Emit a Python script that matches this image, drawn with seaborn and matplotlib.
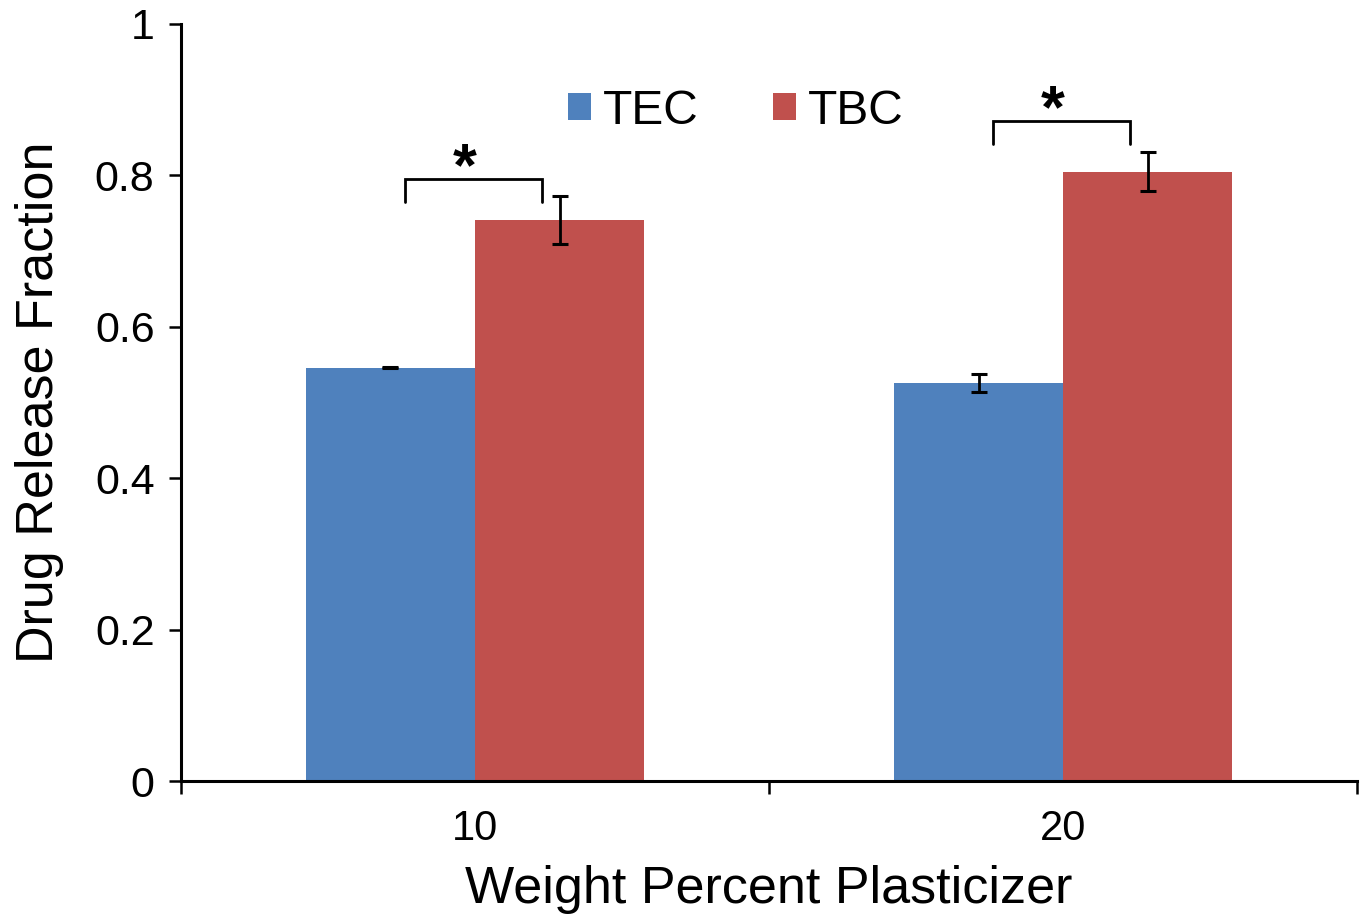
import pandas as pd
import seaborn as sns
import matplotlib.pyplot as plt
from matplotlib.patches import Patch

# data
plasticizer = ['10', '20']
series = ['TEC', 'TBC']
tec_mean = [0.546, 0.526]
tec_err = [0.001, 0.0115]
tbc_mean = [0.741, 0.805]
tbc_err = [0.032, 0.026]
# significance brackets: top of bracket, bottom of legs
bracket_top = [0.795, 0.872]
bracket_leg = [0.765, 0.842]

colors = {'TEC': '#4F81BD', 'TBC': '#C0504D'}

df = pd.DataFrame({
    'pct': plasticizer * 2,
    'plast': ['TEC'] * 2 + ['TBC'] * 2,
    'frac': tec_mean + tbc_mean,
    'err': tec_err + tbc_err,
})

sns.set_style('white')
plt.rcParams['font.family'] = ['Liberation Sans', 'DejaVu Sans']
plt.rcParams['text.color'] = 'black'
plt.rcParams['axes.labelcolor'] = 'black'
plt.rcParams['xtick.color'] = 'black'
plt.rcParams['ytick.color'] = 'black'

fig = plt.figure(figsize=(13.68, 9.18), dpi=100)
ax = fig.add_axes([0.1323, 0.1492, 0.8597, 0.8247])

sns.barplot(data=df, x='pct', y='frac', hue='plast', hue_order=series,
            palette=colors, width=0.575, errorbar=None, saturation=1,
            linewidth=0, ax=ax, legend=False)

# error bars at the bar centres
centres = {}
for patch, (_, row) in zip(ax.patches, df.iterrows()):
    cx = patch.get_x() + patch.get_width() / 2
    centres[(row['plast'], row['pct'])] = cx
    ax.errorbar(cx, row['frac'], yerr=row['err'], fmt='none', ecolor='black',
                elinewidth=2, capsize=6, capthick=2.2)

# significance brackets
for i, p in enumerate(plasticizer):
    x0 = centres[('TEC', p)] + 0.025
    x1 = centres[('TBC', p)] - 0.03
    ax.plot([x0, x0, x1, x1], [bracket_leg[i], bracket_top[i], bracket_top[i], bracket_leg[i]],
            color='black', lw=2, solid_joinstyle='miter')
    ax.text((x0 + x1) / 2 - 0.015, bracket_top[i] - 0.025, '*', ha='center', va='bottom',
            fontsize=44, fontweight='bold')

ax.set_xlim(-0.5, 1.5)
ax.set_ylim(0, 1)
ax.set_yticks([0, 0.2, 0.4, 0.6, 0.8, 1])
ax.set_yticklabels(['0', '0.2', '0.4', '0.6', '0.8', '1'])
ax.set_xticks([-0.5, 0.5, 1.5], minor=False)
ax.set_xticklabels(['', '', ''])
ax.set_xticks([0, 1], minor=True)
ax.set_xticklabels(plasticizer, minor=True)
ax.tick_params(axis='x', which='major', direction='out', length=9, width=1.8, bottom=True)
ax.tick_params(axis='x', which='minor', length=0, labelsize=30, pad=20)
ax.tick_params(axis='y', direction='out', length=9, width=1.8, left=True, labelsize=31, pad=10)

for s in ['top', 'right']:
    ax.spines[s].set_visible(False)
for s in ['left', 'bottom']:
    ax.spines[s].set_linewidth(2.2)
    ax.spines[s].set_color('black')

ax.set_xlabel('Weight Percent Plasticizer', fontsize=37.5, labelpad=12)
ax.set_ylabel('Drug Release Fraction', fontsize=37.5, labelpad=22)

handles = [Patch(facecolor=colors[s], edgecolor='none', label=s) for s in series]
ax.legend(handles=handles, loc='center', bbox_to_anchor=(0.472, 0.885), ncol=2,
          frameon=False, fontsize=34.5, handlelength=0.48, handleheight=0.48,
          handletextpad=0.25, columnspacing=1.55)

fig.savefig('out.png', dpi=100)
